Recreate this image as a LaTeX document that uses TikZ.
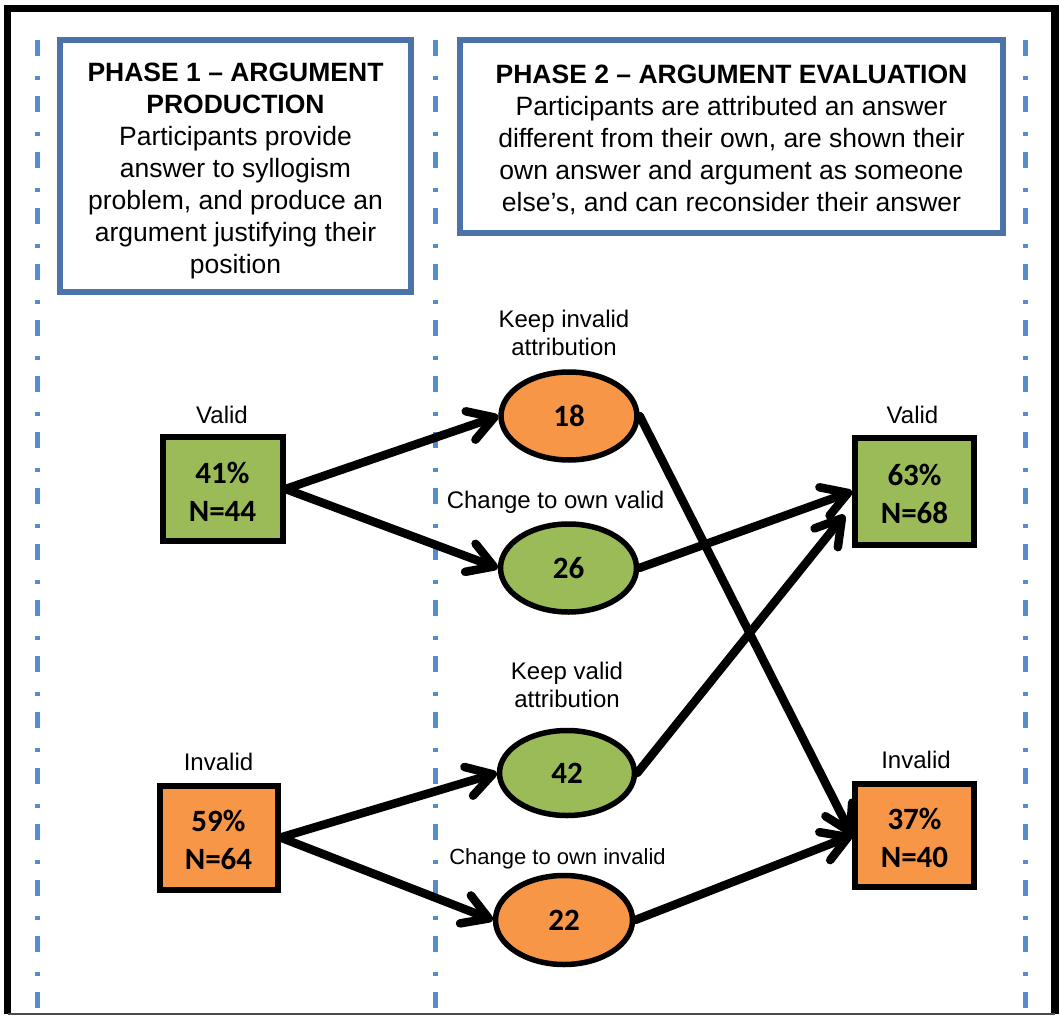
\documentclass[tikz,border=0pt]{standalone}
\usepackage{fontspec}
\setmainfont{Liberation Sans}
\newfontfamily\calfont{Carlito}
\usetikzlibrary{arrows.meta,shapes.geometric}
\definecolor{dashblue}{HTML}{558DCC}
\definecolor{boxblue}{HTML}{4A73AA}
\definecolor{vgreen}{HTML}{9BBB59}
\definecolor{vorange}{HTML}{F79646}
\tikzset{
  frameline/.style={line width=7.5pt, black},
  dashline/.style={dashblue, line width=5pt, dash pattern=on 16pt off 20pt on 4pt off 16pt},
  phasebox/.style={draw=boxblue, line width=5.5pt, fill=white, inner sep=0pt},
  phasetext/.style={align=center, inner sep=0pt, font=\fontsize{26.5}{32}\selectfont},
  numbox/.style={draw=black, line width=6pt, inner sep=0pt, align=center, text height=64pt, font=\calfont\bfseries\fontsize{31}{38}\selectfont},
  ellnode/.style={ellipse, draw=black, line width=5.5pt, inner sep=0pt, minimum width=136pt, minimum height=88pt, font=\calfont\bfseries\fontsize{31}{38}\selectfont},
  lbl/.style={align=center, inner sep=0pt, font=\fontsize{24}{28}\selectfont},
  arr/.style={line width=8.5pt, line cap=round, -{Straight Barb[length=25pt,width=30pt,round]}},
}
\begin{document}
\begin{tikzpicture}[x=1pt,y=-1pt]
\useasboundingbox (0,0) rectangle (1059,1016);
\fill[white] (0,0) rectangle (1059,1016);
% frame
\draw[frameline] (7.5,1014) -- (7.5,8.5) -- (1055,8.5) -- (1055,1014);
\draw[line width=2pt, black!70] (7.5,1014) -- (1055,1014);
% dash-dot separators
\draw[dashline] (37.5,40) -- (37.5,1012);
\draw[dashline] (435,40) -- (435,1012);
\draw[dashline] (1025.5,40) -- (1025.5,1012);
% phase boxes
\node[phasebox, minimum width=351pt, minimum height=252pt] (p1) at (235.5,166) {};
\node[phasetext] (p1t) at (235.5,170.5) {\textbf{PHASE 1 – ARGUMENT}\\\textbf{PRODUCTION}\\Participants provide\\answer to syllogism\\problem, and produce an\\argument justifying their\\position};
\node[phasebox, minimum width=543pt, minimum height=193pt] (p2) at (731.5,136.5) {};
\node[phasetext] (p2t) at (731.5,139.5) {\textbf{PHASE 2 – ARGUMENT EVALUATION}\\Participants are attributed an answer\\different from their own, are shown their\\own answer and argument as someone\\else’s, and can reconsider their answer};
% number boxes
\node[numbox, fill=vgreen, minimum width=120pt, minimum height=104pt] (vl) at (222.5,489) {41\%\\N=44};
\node[numbox, fill=vorange, minimum width=118pt, minimum height=104pt] (il) at (218.5,837.5) {59\%\\N=64};
\node[numbox, fill=vgreen, minimum width=119pt, minimum height=107pt] (vr) at (914.5,491.5) {63\%\\N=68};
\node[numbox, fill=vorange, minimum width=119pt, minimum height=103pt] (vi) at (914.5,835.5) {37\%\\N=40};
% ellipses
\node[ellnode, fill=vorange] (e18) at (569,416) {18};
\node[ellnode, fill=vgreen] (e26) at (568.5,568) {26};
\node[ellnode, fill=vgreen, minimum width=135pt, minimum height=85pt] (e42) at (567,773) {42};
\node[ellnode, fill=vorange, minimum width=137pt, minimum height=89pt] (e22) at (564,920) {22};
% labels
\node[lbl, anchor=base] (lvl) at (222,423) {Valid};
\node[lbl, anchor=base] (lil) at (218.5,770) {Invalid};
\node[lbl, anchor=base] (lvr) at (912.5,423) {Valid};
\node[lbl, anchor=base] (lvi) at (916,768) {Invalid};
\node[lbl, anchor=south] (l18) at (564,356) {Keep invalid\\attribution};
\node[lbl, anchor=base] (l26) at (555.5,508) {Change to own valid};
\node[lbl, anchor=south] (l42) at (567,708) {Keep valid\\attribution};
\node[lbl, anchor=base, font=\fontsize{22}{26}\selectfont] (l22) at (557.5,864) {Change to own invalid};
% arrows
\draw[arr] (vl.east) -- (e18.west);
\draw[arr] (vl.east) -- (e26.west);
\draw[arr] (il.east) -- (e42.west);
\draw[arr] (il.east) -- (e22.west);
\draw[arr] (e18.east) -- (vi.west);
\draw[arr] (e26.east) -- (vr.west);
\draw[arr] (e42.east) -- ([xshift=-7.5pt,yshift=-23.5pt]vr.west);
\draw[arr] (e22.east) -- (vi.west);
\end{tikzpicture}
\end{document}
